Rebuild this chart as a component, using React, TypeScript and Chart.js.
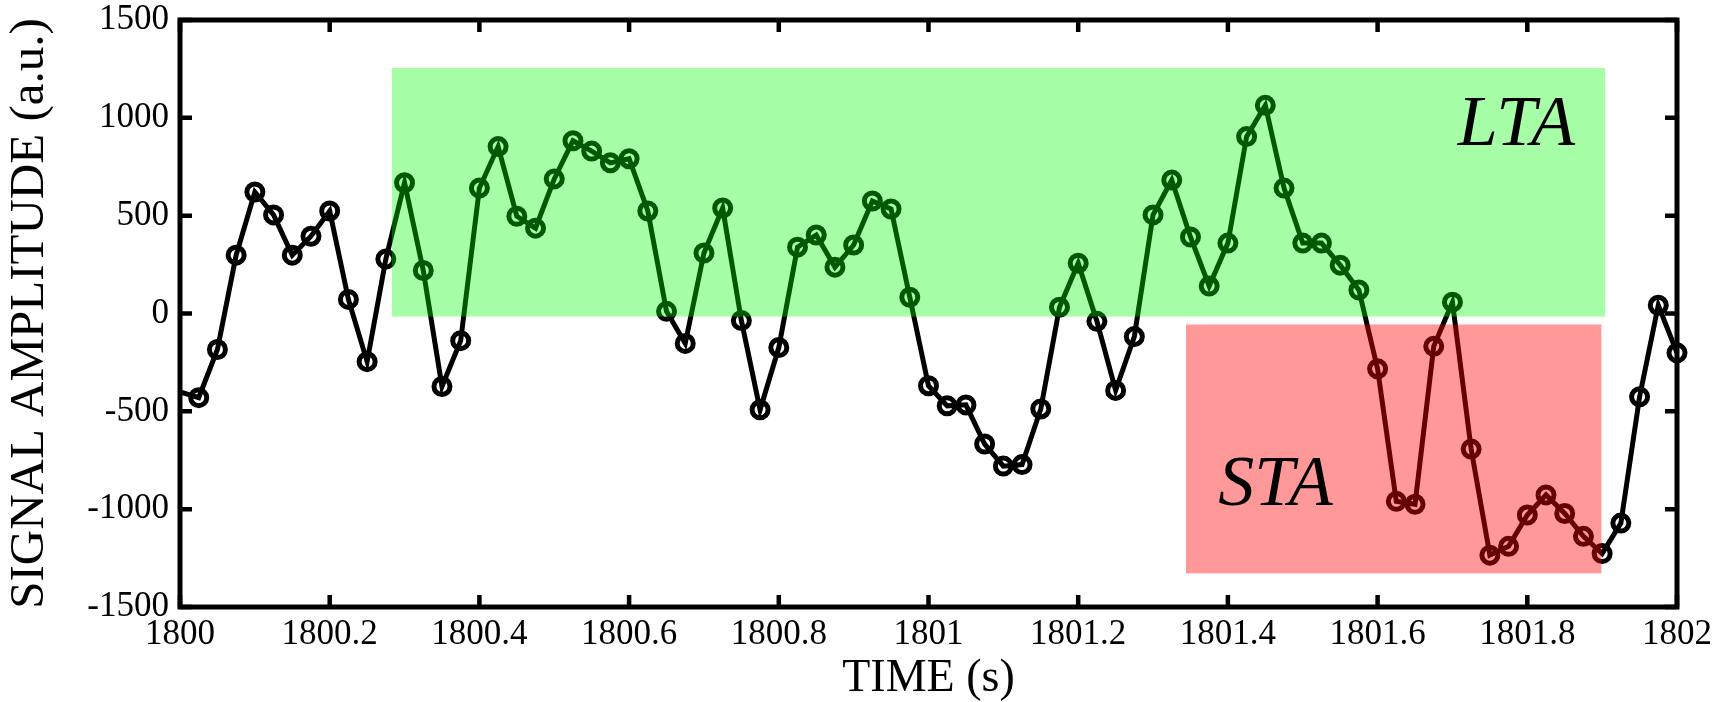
import React, { useEffect, useRef } from "react";
import { Chart, registerables } from "chart.js";

Chart.register(...registerables);

// Sample times (s)
const TIMES = [
  1799.975, 1800.025, 1800.05, 1800.075, 1800.1, 1800.125, 1800.15, 1800.175, 1800.2,
  1800.225, 1800.25, 1800.275, 1800.3, 1800.325, 1800.35, 1800.375, 1800.4,
  1800.425, 1800.45, 1800.475, 1800.5, 1800.525, 1800.55, 1800.575, 1800.6,
  1800.625, 1800.65, 1800.675, 1800.7, 1800.725, 1800.75, 1800.775, 1800.8,
  1800.825, 1800.85, 1800.875, 1800.9, 1800.925, 1800.95, 1800.975, 1801,
  1801.025, 1801.05, 1801.075, 1801.1, 1801.125, 1801.15, 1801.175, 1801.2,
  1801.225, 1801.25, 1801.275, 1801.3, 1801.325, 1801.35, 1801.375, 1801.4,
  1801.425, 1801.45, 1801.475, 1801.5, 1801.525, 1801.55, 1801.575, 1801.6,
  1801.625, 1801.65, 1801.675, 1801.7, 1801.725, 1801.75, 1801.775, 1801.8,
  1801.825, 1801.85, 1801.875, 1801.9, 1801.925, 1801.95, 1801.975, 1802,
];

// Signal amplitude (a.u.)
const AMPLITUDE = [
  -370, -430, -184, 298, 621, 504, 298, 395, 524,
  72, -246, 278, 668, 220, -373, -139, 641,
  853, 497, 436, 688, 883, 830, 770, 791,
  524, 11, -153, 309, 539, -36, -492, -174,
  339, 401, 237, 350, 575, 534, 83, -369,
  -472, -467, -667, -780, -772, -488, 32, 257,
  -40, -393, -118, 504, 682, 391, 140, 360,
  904, 1064, 641, 360, 360, 247, 120, -283,
  -960, -975, -168, 58, -693, -1235, -1190, -1030,
  -927, -1022, -1139, -1227, -1071, -426, 42, -201,
];

// Windows: [tStart, tEnd, ampLow, ampHigh]
const LTA_WINDOW = [1800.283, 1801.904, -16, 1255];
const STA_WINDOW = [1801.344, 1801.899, -1328, -56];
const LTA_LABEL = { text: "LTA", t: 1801.707, a: 861 };
const STA_LABEL = { text: "STA", t: 1801.387, a: -978 };

const X_MIN = 1800;
const X_MAX = 1802;
const X_STEP = 0.2;
const Y_MIN = -1500;
const Y_MAX = 1500;
const Y_STEP = 500;

const FONT = '"Liberation Serif", "Times New Roman", serif';

const overlayPlugin = {
  id: "overlay",
  afterDatasetsDraw(chart: any) {
    const { ctx } = chart;
    const x = chart.scales.x;
    const y = chart.scales.y;
    ctx.save();
    const drawBox = (w: number[], color: string) => {
      const x0 = x.getPixelForValue(w[0]);
      const x1 = x.getPixelForValue(w[1]);
      const y0 = y.getPixelForValue(w[3]);
      const y1 = y.getPixelForValue(w[2]);
      ctx.fillStyle = color;
      ctx.fillRect(x0, y0, x1 - x0, y1 - y0);
    };
    drawBox(LTA_WINDOW, "rgba(0,255,0,0.35)");
    drawBox(STA_WINDOW, "rgba(255,0,0,0.4)");
    ctx.fillStyle = "#000";
    ctx.font = `italic 72px ${FONT}`;
    ctx.textBaseline = "alphabetic";
    ctx.textAlign = "left";
    for (const l of [LTA_LABEL, STA_LABEL]) {
      ctx.fillText(l.text, x.getPixelForValue(l.t), y.getPixelForValue(l.a));
    }
    ctx.restore();
  },
  afterDraw(chart: any) {
    const { ctx, chartArea } = chart;
    const { left, right, top, bottom } = chartArea;
    const x = chart.scales.x;
    const y = chart.scales.y;
    const tl = 12;
    ctx.save();
    ctx.strokeStyle = "#000";
    ctx.lineWidth = 4.5;
    ctx.beginPath();
    for (const t of x.ticks) {
      const px = x.getPixelForValue(t.value);
      ctx.moveTo(px, bottom);
      ctx.lineTo(px, bottom - tl);
      ctx.moveTo(px, top);
      ctx.lineTo(px, top + tl);
    }
    for (const t of y.ticks) {
      const py = y.getPixelForValue(t.value);
      ctx.moveTo(left, py);
      ctx.lineTo(left + tl, py);
      ctx.moveTo(right, py);
      ctx.lineTo(right - tl, py);
    }
    ctx.stroke();
    ctx.lineJoin = "miter";
    ctx.lineWidth = 5;
    ctx.strokeRect(left, top, right - left, bottom - top);
    ctx.restore();
  },
};

export default function App() {
  const canvasRef = useRef<HTMLCanvasElement | null>(null);

  useEffect(() => {
    const canvas = canvasRef.current;
    if (!canvas) return;
    const chart = new Chart(canvas, {
      type: "line",
      data: {
        datasets: [
          {
            data: TIMES.map((t, i) => ({ x: t, y: AMPLITUDE[i] })),
            borderColor: "#000",
            borderWidth: 5,
            pointRadius: 8,
            pointBorderWidth: 5,
            pointBackgroundColor: "rgba(0,0,0,0)",
            pointBorderColor: "#000",
            tension: 0,
            fill: false,
            clip: { left: 0, top: 0, right: 14, bottom: 0 } as any,
          },
        ],
      },
      options: {
        animation: false,
        responsive: false,
        devicePixelRatio: 1,
        layout: { padding: { top: 20, right: 42, left: 0, bottom: 0 } },
        plugins: {
          legend: { display: false },
          tooltip: { enabled: false },
        },
        scales: {
          x: {
            type: "linear",
            min: X_MIN,
            max: X_MAX,
            grid: { display: false, drawTicks: false },
            border: { display: false },
            ticks: {
              stepSize: X_STEP,
              autoSkip: false,
              maxRotation: 0,
              color: "#000",
              padding: 10,
              font: { family: FONT, size: 35, lineHeight: 1 },
              callback: (v: any) => String(Math.round(Number(v) * 10) / 10),
            },
            title: {
              display: true,
              text: "TIME (s)",
              color: "#000",
              font: { family: FONT, size: 46, lineHeight: 1 },
              padding: 0,
            },
            afterFit: (s: any) => {
              s.height = 95;
              s.paddingLeft = 0;
              s.paddingRight = 0;
            },
          },
          y: {
            type: "linear",
            min: Y_MIN,
            max: Y_MAX,
            grid: { display: false, drawTicks: false },
            border: { display: false },
            ticks: {
              stepSize: Y_STEP,
              color: "#000",
              padding: 11,
              font: { family: FONT, size: 35, lineHeight: 1 },
              callback: (v: any) => String(v),
            },
            title: {
              display: true,
              text: "SIGNAL AMPLITUDE (a.u.)",
              color: "#000",
              font: { family: FONT, size: 49, lineHeight: 1 },
              padding: { top: 6, bottom: 0 },
            },
            afterFit: (s: any) => {
              s.width = 180;
              s.paddingTop = 0;
              s.paddingBottom = 0;
            },
          },
        },
      },
      plugins: [overlayPlugin],
    });
    return () => chart.destroy();
  }, []);

  return (
    <div style={{ position: "fixed", left: 0, top: 0, width: 1719, height: 702, background: "#fff" }}>
      <canvas ref={canvasRef} width={1719} height={702} style={{ display: "block" }} />
    </div>
  );
}
